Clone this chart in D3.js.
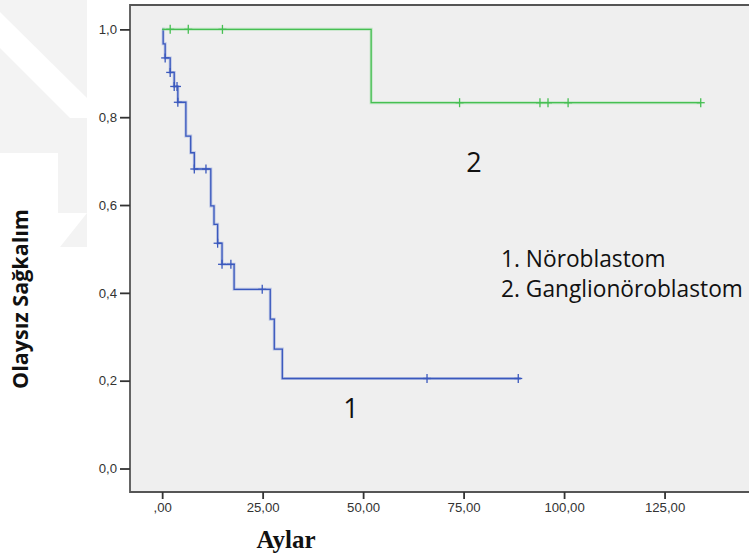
<!DOCTYPE html>
<html>
<head>
<meta charset="utf-8">
<script src="https://cdn.jsdelivr.net/npm/d3@7/dist/d3.min.js"></script>
<style>
  html, body { margin: 0; padding: 0; background: #ffffff; }
  svg { display: block; }
</style>
</head>
<body>
<svg id="chart" width="749" height="560"></svg>
<script>
// Kaplan–Meier event-free survival, two tumour groups

// Group 1: Nöroblastom — step times (months) and survival after each step
const g1Times = [0, 0.25, 0.75, 2.0, 3.0, 3.9, 5.9, 7.1, 8.0, 12.1, 12.9, 13.8, 14.9, 17.9, 26.9, 27.9, 29.9];
const g1Surv  = [1.0, 0.967, 0.935, 0.902, 0.870, 0.834, 0.757, 0.719, 0.682, 0.598, 0.556, 0.513, 0.465, 0.408, 0.340, 0.272, 0.205];
const g1Censored = [0.75, 2.0, 3.0, 3.7, 3.9, 8.0, 10.9, 13.8, 14.9, 17.1, 24.9, 65.9, 88.6];
const g1End = 89.2;

// Group 2: Ganglionöroblastom
const g2Times = [0, 52];
const g2Surv  = [1.0, 0.833];
const g2Censored = [2.0, 6.5, 15.0, 74.0, 94.0, 96.0, 101.0, 134.0];
const g2End = 134.0;

const xTicks = [0, 25, 50, 75, 100, 125];
const yTicks = [0, 0.2, 0.4, 0.6, 0.8, 1.0];

const groupLabels = ["1", "2"];
const legendLines = ["1. Nöroblastom", "2. Ganglionöroblastom"];
const xTitle = "Aylar";
const yTitle = "Olaysız Sağkalım";

const svg = d3.select("#chart");

// faint page watermark behind the figure
const wm = svg.append("g").attr("fill", "#f3f3f3");
wm.append("polygon").attr("points", "0,0 87,0 87,213 58,213 58,153 0,153");
wm.append("polygon").attr("points", "60,247 87,213 87,247");
svg.append("polygon").attr("fill", "#ffffff")
  .attr("points", "0,12 0,48 70,118 87,118 87,98 0,12");

const plot = { left: 130, top: 5, right: 760, bottom: 492 };

const x = d3.scaleLinear().domain([-8, 148]).range([plot.left, 757]);
const y = d3.scaleLinear().domain([-0.0535, 1.0555]).range([plot.bottom, plot.top]);

// plot background
svg.append("rect")
  .attr("x", plot.left).attr("y", plot.top)
  .attr("width", plot.right - plot.left).attr("height", plot.bottom - plot.top)
  .attr("fill", "#efefef");

svg.append("clipPath").attr("id", "clip")
  .append("rect")
  .attr("x", plot.left).attr("y", plot.top)
  .attr("width", plot.right - plot.left).attr("height", plot.bottom - plot.top);

function stepPoints(times, surv, end) {
  const pts = times.map((t, i) => [t, surv[i]]);
  pts.push([end, surv[surv.length - 1]]);
  return pts;
}
function survAt(times, surv, t) {
  let s = surv[0];
  for (let i = 0; i < times.length; i++) if (times[i] <= t) s = surv[i];
  return s;
}

const line = d3.line()
  .x(d => x(d[0]))
  .y(d => y(d[1]))
  .curve(d3.curveStepAfter);

const groups = [
  { times: g1Times, surv: g1Surv, cens: g1Censored, end: g1End, color: "#3a58bd", halo: "#8fa2dc" },
  { times: g2Times, surv: g2Surv, cens: g2Censored, end: g2End, color: "#46bf52", halo: "#9bdca2" }
];

const curves = svg.append("g").attr("clip-path", "url(#clip)");
groups.forEach(g => {
  const pts = stepPoints(g.times, g.surv, g.end);
  curves.append("path").datum(pts).attr("d", line)
    .attr("fill", "none").attr("stroke", g.halo).attr("stroke-width", 3).attr("stroke-opacity", 0.55);
  curves.append("path").datum(pts).attr("d", line)
    .attr("fill", "none").attr("stroke", g.color).attr("stroke-width", 1.3);
  const marks = curves.append("g").attr("stroke", g.color).attr("stroke-width", 1.3);
  g.cens.forEach(t => {
    const cx = x(t), cy = y(survAt(g.times, g.surv, t));
    marks.append("line").attr("x1", cx).attr("x2", cx).attr("y1", cy - 4.5).attr("y2", cy + 4.5);
    marks.append("line").attr("x1", cx - 4).attr("x2", cx + 4).attr("y1", cy).attr("y2", cy);
  });
});

// frame
svg.append("path")
  .attr("d", `M${plot.right},${plot.top}H${plot.left}V${plot.bottom}H${plot.right}`)
  .attr("fill", "none").attr("stroke", "#555").attr("stroke-width", 1.8);

// axes
const comma = v => v.replace(".", ",");
const yAxis = svg.append("g")
  .attr("transform", `translate(${plot.left},0)`)
  .call(d3.axisLeft(y).tickValues(yTicks).tickSize(10).tickPadding(3)
    .tickFormat(d => comma(d3.format(".1f")(d))));
const xAxis = svg.append("g")
  .attr("transform", `translate(0,${plot.bottom})`)
  .call(d3.axisBottom(x).tickValues(xTicks).tickSize(7).tickPadding(4)
    .tickFormat(d => d === 0 ? ",00" : comma(d3.format(".2f")(d))));
[yAxis, xAxis].forEach(a => {
  a.select(".domain").remove();
  a.selectAll(".tick line").attr("stroke", "#333").attr("stroke-width", 1.8);
  a.selectAll(".tick text").attr("fill", "#333")
    .style("font-family", "'Liberation Sans', Arial, sans-serif").style("font-size", "13.2px");
});

// size a text element so that it spans the given width
function fitWidth(sel, width) {
  const base = parseFloat(sel.style("font-size"));
  const w = sel.node().getComputedTextLength();
  if (w > 0) sel.style("font-size", (base * width / w).toFixed(2) + "px");
  return sel;
}

// axis titles
svg.append("text")
  .attr("x", 286).attr("y", 548).attr("text-anchor", "middle")
  .style("font-family", "'Liberation Serif', 'Times New Roman', serif")
  .style("font-weight", "bold").style("font-size", "25px").attr("fill", "#111")
  .text(xTitle);

const yT = svg.append("text")
  .attr("transform", "translate(28,299) rotate(-90)")
  .attr("text-anchor", "middle")
  .style("font-family", "'Open Sans', sans-serif")
  .style("font-weight", "bold").style("font-size", "18px").attr("fill", "#111")
  .text(yTitle);
fitWidth(yT, 180);

// group labels on the curves
const labelFont = "'Open Sans', sans-serif";
svg.append("text").attr("x", 474).attr("y", 172).attr("text-anchor", "middle")
  .style("font-family", labelFont).style("font-size", "27px").attr("fill", "#111")
  .text(groupLabels[1]);
svg.append("text").attr("x", 351).attr("y", 418).attr("text-anchor", "middle")
  .style("font-family", labelFont).style("font-size", "27px").attr("fill", "#111")
  .text(groupLabels[0]);

// legend text
const legend = legendLines.map((t, i) =>
  svg.append("text").attr("x", 501).attr("y", 267 + i * 30)
    .style("font-family", labelFont).style("font-size", "20px").attr("fill", "#111")
    .text(t));
fitWidth(legend[1], 242);
legend[0].style("font-size", legend[1].style("font-size"));
</script>
</body>
</html>
